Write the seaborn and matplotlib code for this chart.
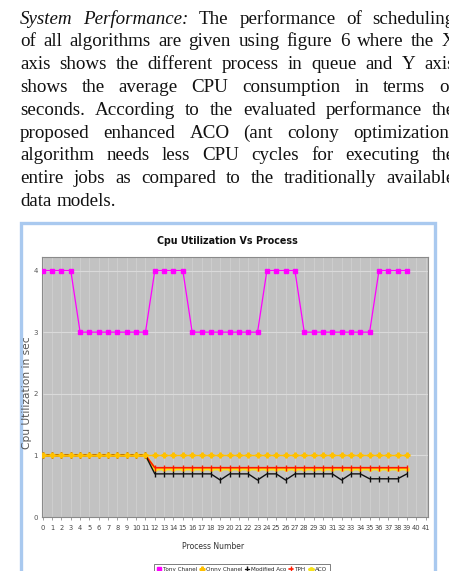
import matplotlib
matplotlib.use("Agg")
import numpy as np
import pandas as pd
import seaborn as sns
import matplotlib.pyplot as plt
from matplotlib import font_manager
from matplotlib.font_manager import FontProperties
from matplotlib.patches import Rectangle

# ---------------- data ----------------
process = list(range(40))
tony_chanel = [4] * 4 + [3] * 8 + [4] * 4 + [3] * 8 + [4] * 4 + [3] * 8 + [4] * 4
onny_chanel = [1.0] * 40
modified_aco = ([1.0] * 12 + [0.7] * 7 + [0.6] + [0.7] * 3 + [0.6] + [0.7] * 2 + [0.6]
                + [0.7] * 5 + [0.6] + [0.7] * 2 + [0.62] * 4 + [0.7])
tph = [1.0] * 12 + [0.8] * 28
aco = [1.0] * 12 + [0.78] * 28
series_names = ["Tony Chanel", "Onny Chanel", "Modified Aco", "TPH", "ACO"]
x_ticks = list(range(42))
y_ticks = [0, 1, 2, 3, 4]
title = "Cpu Utilization Vs Process"
x_label = "Process Number"
y_label = "Cpu Utilization in sec"

paragraph_lines = [
    "System Performance: The performance of scheduling",
    "of all algorithms are given using figure 6 where the X",
    "axis shows the different process in queue and Y axis",
    "shows the average CPU consumption in terms of",
    "seconds. According to the evaluated performance the",
    "proposed enhanced ACO (ant colony optimization)",
    "algorithm needs less CPU cycles for executing the",
    "entire jobs as compared to the traditionally available",
    "data models.",
]
italic_words = 2  # "System Performance:" on the first line

# ---------------- fonts ----------------
def pick_condensed(bold):
    allowed = ["liberation sans", "dejavu sans", "noto sans", "roboto", "open sans"]
    best, best_score = None, -1
    for f in font_manager.fontManager.ttflist:
        n = f.name.lower()
        fn = f.fname.lower()
        st = str(f.stretch).lower()
        if "mono" in n or "serif" in n or f.style != "normal":
            continue
        base = next((a for a in allowed if n.startswith(a)), None)
        if base is None:
            continue
        rest = n[len(base):]
        for w in ["condensed", "narrow", "semi", "extra", "ultra", " ", "-"]:
            rest = rest.replace(w, "")
        if rest:
            continue
        tag = n + " " + fn + " " + st
        if not ("condensed" in tag or "narrow" in tag):
            continue
        w = f.weight
        if isinstance(w, str):
            w = font_manager.weight_dict.get(w, 400)
        if bold != (w >= 600):
            continue
        if "extra" in tag or "ultra" in tag:
            score = 3
        elif "semi" in tag:
            score = 1
        else:
            score = 2
        if "liberation" in n:
            score += 0.5
        if score > best_score:
            best, best_score = f, score
    if best is None:
        return FontProperties(family=["Liberation Sans", "DejaVu Sans"],
                              weight="bold" if bold else "normal")
    return FontProperties(fname=best.fname)

cond_bold = pick_condensed(True)
cond_reg = pick_condensed(False)

sns.set_theme(style="white")
plt.rcParams["font.family"] = ["DejaVu Sans"]

W, H = 449, 571
fig = plt.figure(figsize=(W / 100, H / 100), dpi=100)
fig.patch.set_facecolor("white")
renderer = fig.canvas.get_renderer()

def fx(px):
    return px / W

def fy(py):
    return 1 - py / H

def fit_text(x, y, s, fp, size, target_w, **kw):
    t = fig.text(x, y, s, fontproperties=fp.copy(), **kw)
    t.set_fontsize(size)
    w = t.get_window_extent(renderer).width
    t.set_fontsize(size * target_w / w)
    return t

# paragraph text, justified between x=20 and x=455 (clipped by the page edge)
left, right = 20, 455
baseline0, lstep = 23.5, 22.8
serif = ["Liberation Serif", "DejaVu Serif"]
for i, line in enumerate(paragraph_lines):
    words = line.split(" ")
    texts = []
    for j, wd in enumerate(words):
        ital = (i == 0 and j < italic_words)
        t = fig.text(0, fy(baseline0 + i * lstep), wd, ha="left", va="baseline",
                     fontsize=13.7, family=serif, style="italic" if ital else "normal",
                     color="#111111")
        texts.append(t)
    widths = [t.get_window_extent(renderer).width for t in texts]
    if i == len(paragraph_lines) - 1:
        gap = 5.0
    else:
        gap = (right - left - sum(widths)) / (len(words) - 1)
    x = left
    for t, w in zip(texts, widths):
        t.set_x(fx(x))
        x += w + gap

# chart image border
fig.patches.append(Rectangle((fx(21), fy(590)), fx(435) - fx(21), fy(222.5) - fy(590),
                             transform=fig.transFigure, facecolor="white",
                             edgecolor="#a9c9ef", linewidth=2.4, zorder=-5))

# ---------------- axes ----------------
ax = fig.add_axes([fx(42), fy(517), fx(428) - fx(42), fy(257) - fy(517)])
ax.set_zorder(2)
ax.set_facecolor("#c2c2c2")

df = pd.DataFrame({"process": process, series_names[0]: tony_chanel,
                   series_names[1]: onny_chanel, series_names[2]: modified_aco,
                   series_names[3]: tph, series_names[4]: aco})

styles = {
    "ACO": dict(color="#f7e31a", marker="o", markersize=2.5, lw=2.2, z=3),
    "TPH": dict(color="#ff1a00", marker="|", markersize=4, lw=1.2, z=4),
    "Modified Aco": dict(color="#111111", marker="|", markersize=4, lw=1.0, z=5),
    "Onny Chanel": dict(color="#ffc000", marker="P", markersize=3.5, lw=1.0, z=6),
    "Tony Chanel": dict(color="#ff00ff", marker="s", markersize=2.6, lw=0.9, z=7),
}
for name in ["ACO", "TPH", "Modified Aco", "Onny Chanel", "Tony Chanel"]:
    st = styles[name]
    sns.lineplot(data=df, x="process", y=name, ax=ax, color=st["color"], marker=st["marker"],
                 markersize=st["markersize"], markeredgewidth=1.0, markeredgecolor=st["color"],
                 linewidth=st["lw"], zorder=st["z"], label=name, legend=False)

ax.set_xlim(-0.08, 41.25)
ax.set_ylim(0, 4.22)
ax.set_xticks(x_ticks)
tick_fp = cond_reg.copy()
tick_fp.set_size(5.3)
ax.set_xticklabels([str(t) for t in x_ticks], fontproperties=tick_fp, color="#444444")
ax.set_yticks(y_ticks)
ax.set_yticklabels([str(t) for t in y_ticks], fontsize=5, color="#555555")
ax.tick_params(axis="x", length=2.5, width=0.5, color="#777777", pad=3, bottom=True)
ax.tick_params(axis="y", length=0, pad=3)
ax.grid(True, axis="x", color="#d3d3d3", linewidth=0.5)
ax.grid(True, axis="y", color="#dadada", linewidth=0.8)
ax.set_axisbelow(True)
for s in ax.spines.values():
    s.set_color("#8a8a8a")
    s.set_linewidth(0.8)
ax.set_xlabel("")
ax.set_ylabel("")

fit_text(fx(227.5), fy(241.5), title, cond_bold, 10, 140,
         ha="center", va="center", color="#111111")
fit_text(fx(213.5), fy(546.5), x_label, cond_reg, 8, 62,
         ha="center", va="center", color="#333333")
fig.text(fx(27), fy(393), y_label, ha="center", va="center", fontsize=7.7, rotation=90,
         color="#555555")

h, l = ax.get_legend_handles_labels()
order = [l.index(n) for n in series_names]
leg_fp = cond_reg.copy()
leg_fp.set_size(4.5)
leg = fig.legend([h[i] for i in order], [l[i] for i in order], loc="upper left",
                 bbox_to_anchor=(fx(151), fy(561)), ncol=5, frameon=True,
                 fancybox=False, edgecolor="#444444", handlelength=0.7, handletextpad=0.25,
                 columnspacing=0.45, borderpad=0.45, prop=leg_fp)
leg.get_frame().set_linewidth(0.6)

fig.savefig("out.png", dpi=100)
